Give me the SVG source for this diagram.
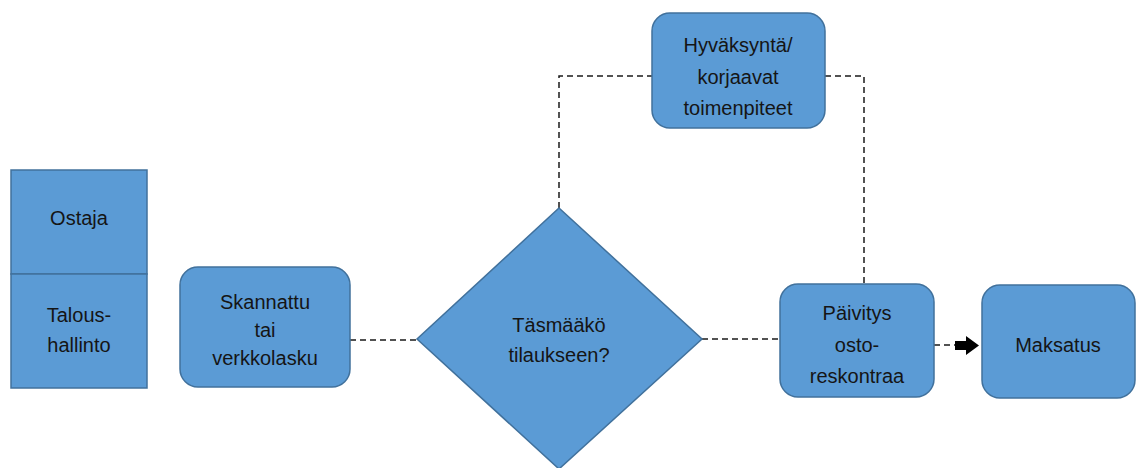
<svg xmlns="http://www.w3.org/2000/svg" width="1137" height="468" viewBox="0 0 1137 468">
<style>
.n{fill:#5B9BD5;stroke:#41719C;stroke-width:1.5}
.t{font-family:"Liberation Sans",Arial,sans-serif;font-size:20px;fill:#151515;text-anchor:middle}
.c{fill:none;stroke:#1a1a1a;stroke-width:1.5;stroke-dasharray:6 4}
</style>
<rect width="1137" height="468" fill="#ffffff"/>
<g id="connectors">
<path class="c" d="M350 340 H417"/>
<path class="c" d="M702 339 H780"/>
<path class="c" d="M559 208 V76 H652"/>
<path class="c" d="M825 76 H864 V284"/>
<path class="c" d="M934 345 H955"/>
<path d="M955 341 H966 V336 L979 345.5 L966 355 V350 H955 Z" fill="#000000"/>
</g>
<g id="roles">
<rect class="n" x="11" y="170" width="136" height="104"/>
<rect class="n" x="11" y="274" width="136" height="114"/>
<text class="t" x="79" y="225">Ostaja</text>
<text class="t" x="79" y="322">Talous-</text>
<text class="t" x="79" y="352">hallinto</text>
</g>
<g id="skannattu">
<rect class="n" x="180" y="267" width="170" height="120" rx="18"/>
<text class="t" x="265" y="309">Skannattu</text>
<text class="t" x="265" y="337">tai</text>
<text class="t" x="265" y="365">verkkolasku</text>
</g>
<g id="tasmaako">
<path class="n" d="M559 208 L702 339 L559 469 L417 339 Z"/>
<text class="t" x="559" y="332">Täsmääkö</text>
<text class="t" x="559" y="362">tilaukseen?</text>
</g>
<g id="hyvaksynta">
<rect class="n" x="652" y="13" width="173" height="115" rx="18"/>
<text class="t" x="738" y="52">Hyväksyntä/</text>
<text class="t" x="738" y="84">korjaavat</text>
<text class="t" x="738" y="115">toimenpiteet</text>
</g>
<g id="paivitys">
<rect class="n" x="780" y="284" width="154" height="113" rx="18"/>
<text class="t" x="857" y="320">Päivitys</text>
<text class="t" x="857" y="352">osto-</text>
<text class="t" x="857" y="383">reskontraa</text>
</g>
<g id="maksatus">
<rect class="n" x="982" y="285" width="153" height="113" rx="18"/>
<text class="t" x="1058" y="352">Maksatus</text>
</g>
</svg>
